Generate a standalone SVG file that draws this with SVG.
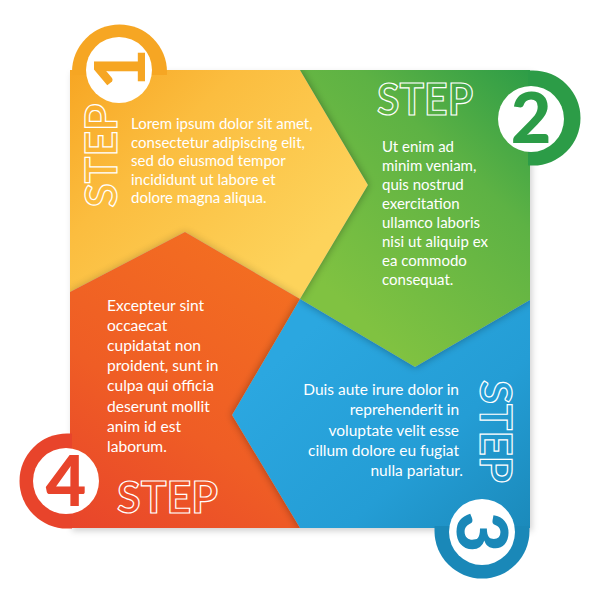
<svg xmlns="http://www.w3.org/2000/svg" width="600" height="600" viewBox="0 0 600 600">
<style>
.body{font-family:Lato,"Open Sans","Liberation Sans",sans-serif;font-size:15px;fill:#ffffff}
.step{font-family:Lato,"Open Sans","Liberation Sans",sans-serif;font-weight:700;font-size:43px;fill:none;stroke:#ffffff;stroke-width:1.2}
.num{font-family:Lato,"Open Sans","Liberation Sans",sans-serif;font-weight:900;font-size:70px;text-anchor:middle}
</style>
<defs>
<linearGradient id="gY" gradientUnits="userSpaceOnUse" x1="80" y1="60" x2="290" y2="270">
<stop offset="0" stop-color="#f7a623"/><stop offset="0.4" stop-color="#fbbd3f"/><stop offset="1" stop-color="#fdd35b"/>
</linearGradient>
<linearGradient id="gG" gradientUnits="userSpaceOnUse" x1="545" y1="80" x2="340" y2="300">
<stop offset="0" stop-color="#2c9c47"/><stop offset="0.4" stop-color="#5db244"/><stop offset="1" stop-color="#80c241"/>
</linearGradient>
<linearGradient id="gB" gradientUnits="userSpaceOnUse" x1="320" y1="320" x2="530" y2="545">
<stop offset="0" stop-color="#2ba7e0"/><stop offset="0.55" stop-color="#249dd5"/><stop offset="1" stop-color="#1a88b8"/>
</linearGradient>
<linearGradient id="gO" gradientUnits="userSpaceOnUse" x1="250" y1="250" x2="60" y2="525">
<stop offset="0" stop-color="#f36e21"/><stop offset="0.55" stop-color="#ef5d25"/><stop offset="1" stop-color="#e8442b"/>
</linearGradient>
<filter id="sh" x="-20%" y="-20%" width="140%" height="140%">
<feGaussianBlur in="SourceAlpha" stdDeviation="4"/>
<feComponentTransfer><feFuncA type="linear" slope="0.35"/></feComponentTransfer>
</filter>
<filter id="outer" x="-10%" y="-10%" width="120%" height="120%">
<feDropShadow dx="2" dy="3" stdDeviation="3" flood-color="#000" flood-opacity="0.18"/>
</filter>
<clipPath id="cY"><polygon points="70,70 300,70 368,185 300,299 185,232 70,292"/></clipPath>
<clipPath id="cG"><polygon points="300,70 530,70 530,300 415,367 300,299 368,185"/></clipPath>
<clipPath id="cB"><polygon points="300,299 415,367 530,300 530,528 300,528 232,415"/></clipPath>
<clipPath id="cO"><polygon points="70,292 185,232 300,299 232,415 300,528 70,528"/></clipPath>
</defs>

<!-- outer silhouette shadow -->
<g filter="url(#outer)">
<rect x="70" y="70" width="460" height="458" fill="#cccccc"/>
</g>

<g id="panel1">
<polygon points="70,70 300,70 368,185 300,299 185,232 70,292" fill="url(#gY)"/>
</g>
<g id="panel2">
<polygon points="300,70 530,70 530,300 415,367 300,299 368,185" fill="url(#gG)"/>
</g>
<g id="panel3">
<polygon points="300,299 415,367 530,300 530,528 300,528 232,415" fill="url(#gB)"/>
</g>
<g id="panel4">
<polygon points="70,292 185,232 300,299 232,415 300,528 70,528" fill="url(#gO)"/>
</g>

<!-- overlap shadows -->
<g id="shadows">
<g clip-path="url(#cG)"><polygon points="70,70 300,70 368,185 300,299 185,232 70,292" filter="url(#sh)"/></g>
<g clip-path="url(#cB)"><polygon points="300,70 530,70 530,300 415,367 300,299 368,185" filter="url(#sh)"/></g>
<g clip-path="url(#cO)"><polygon points="300,299 415,367 530,300 530,528 300,528 232,415" filter="url(#sh)"/></g>
<g clip-path="url(#cY)"><polygon points="70,292 185,232 300,299 232,415 300,528 70,528" filter="url(#sh)" opacity="0.6"/></g>
</g>

<!-- tabs -->
<g id="tab1">
<path d="M72,72 A47.5,47.5 0 0 1 167,72 L167,75 L72,75 Z" fill="#f6a623"/>
<circle cx="119" cy="70" r="33" fill="#ffffff"/>
<text class="num" fill="#f6a623" transform="translate(145,69) rotate(-90)">1</text>
</g>
<g id="tab2">
<path d="M528,70.5 L533,70.5 A47.5,47.5 0 0 1 533,165.5 L528,165.5 Z" fill="#2c9c47"/>
<circle cx="531" cy="119" r="33" fill="#ffffff"/>
<text class="num" fill="#2c9c47" x="531" y="143">2</text>
</g>
<g id="tab3">
<path d="M434.5,526 L434.5,531 A47.5,47.5 0 0 0 529.5,531 L529.5,526 Z" fill="#1a88b8"/>
<circle cx="482" cy="532" r="33" fill="#ffffff"/>
<text class="num" fill="#1a88b8" transform="translate(457,532) rotate(90)">3</text>
</g>
<g id="tab4">
<path d="M72,433.5 L67,433.5 A47.5,47.5 0 0 0 67,528.5 L72,528.5 Z" fill="#e8442b"/>
<circle cx="66" cy="481" r="33" fill="#ffffff"/>
<text class="num" fill="#e8442b" x="66" y="506">4</text>
</g>

<!-- STEP labels -->
<text class="step" text-anchor="middle" textLength="104" lengthAdjust="spacingAndGlyphs" transform="translate(117,155.5) rotate(-90)">STEP</text>
<text class="step" x="425" y="115" text-anchor="middle" textLength="96" lengthAdjust="spacingAndGlyphs">STEP</text>
<text class="step" text-anchor="middle" textLength="103" lengthAdjust="spacingAndGlyphs" transform="translate(480,431.5) rotate(90)">STEP</text>
<text class="step" x="167.5" y="513" text-anchor="middle" textLength="101" lengthAdjust="spacingAndGlyphs">STEP</text>

<!-- body texts -->
<text class="body">
<tspan x="131" y="129">Lorem ipsum dolor sit amet,</tspan>
<tspan x="131" y="147.5">consectetur adipiscing elit,</tspan>
<tspan x="131" y="166">sed do eiusmod tempor</tspan>
<tspan x="131" y="184.5">incididunt ut labore et</tspan>
<tspan x="131" y="203">dolore magna aliqua.</tspan>
</text>
<text class="body">
<tspan x="382" y="152">Ut enim ad</tspan>
<tspan x="382" y="171">minim veniam,</tspan>
<tspan x="382" y="190">quis nostrud</tspan>
<tspan x="382" y="209">exercitation</tspan>
<tspan x="382" y="228">ullamco laboris</tspan>
<tspan x="382" y="247">nisi ut aliquip ex</tspan>
<tspan x="382" y="266">ea commodo</tspan>
<tspan x="382" y="285">consequat.</tspan>
</text>
<text class="body" style="font-size:15.6px">
<tspan x="107" y="311">Excepteur sint</tspan>
<tspan x="107" y="331">occaecat</tspan>
<tspan x="107" y="351">cupidatat non</tspan>
<tspan x="107" y="371">proident, sunt in</tspan>
<tspan x="107" y="391">culpa qui officia</tspan>
<tspan x="107" y="411.5">deserunt mollit</tspan>
<tspan x="107" y="432">anim id est</tspan>
<tspan x="107" y="452">laborum.</tspan>
</text>
<text class="body" text-anchor="end" style="font-size:15.5px">
<tspan x="463" y="395">Duis aute irure dolor in</tspan>
<tspan x="463" y="415">reprehenderit in</tspan>
<tspan x="463" y="435.5">voluptate velit esse</tspan>
<tspan x="463" y="456">cillum dolore eu fugiat</tspan>
<tspan x="463" y="476">nulla pariatur.</tspan>
</text>
</svg>
